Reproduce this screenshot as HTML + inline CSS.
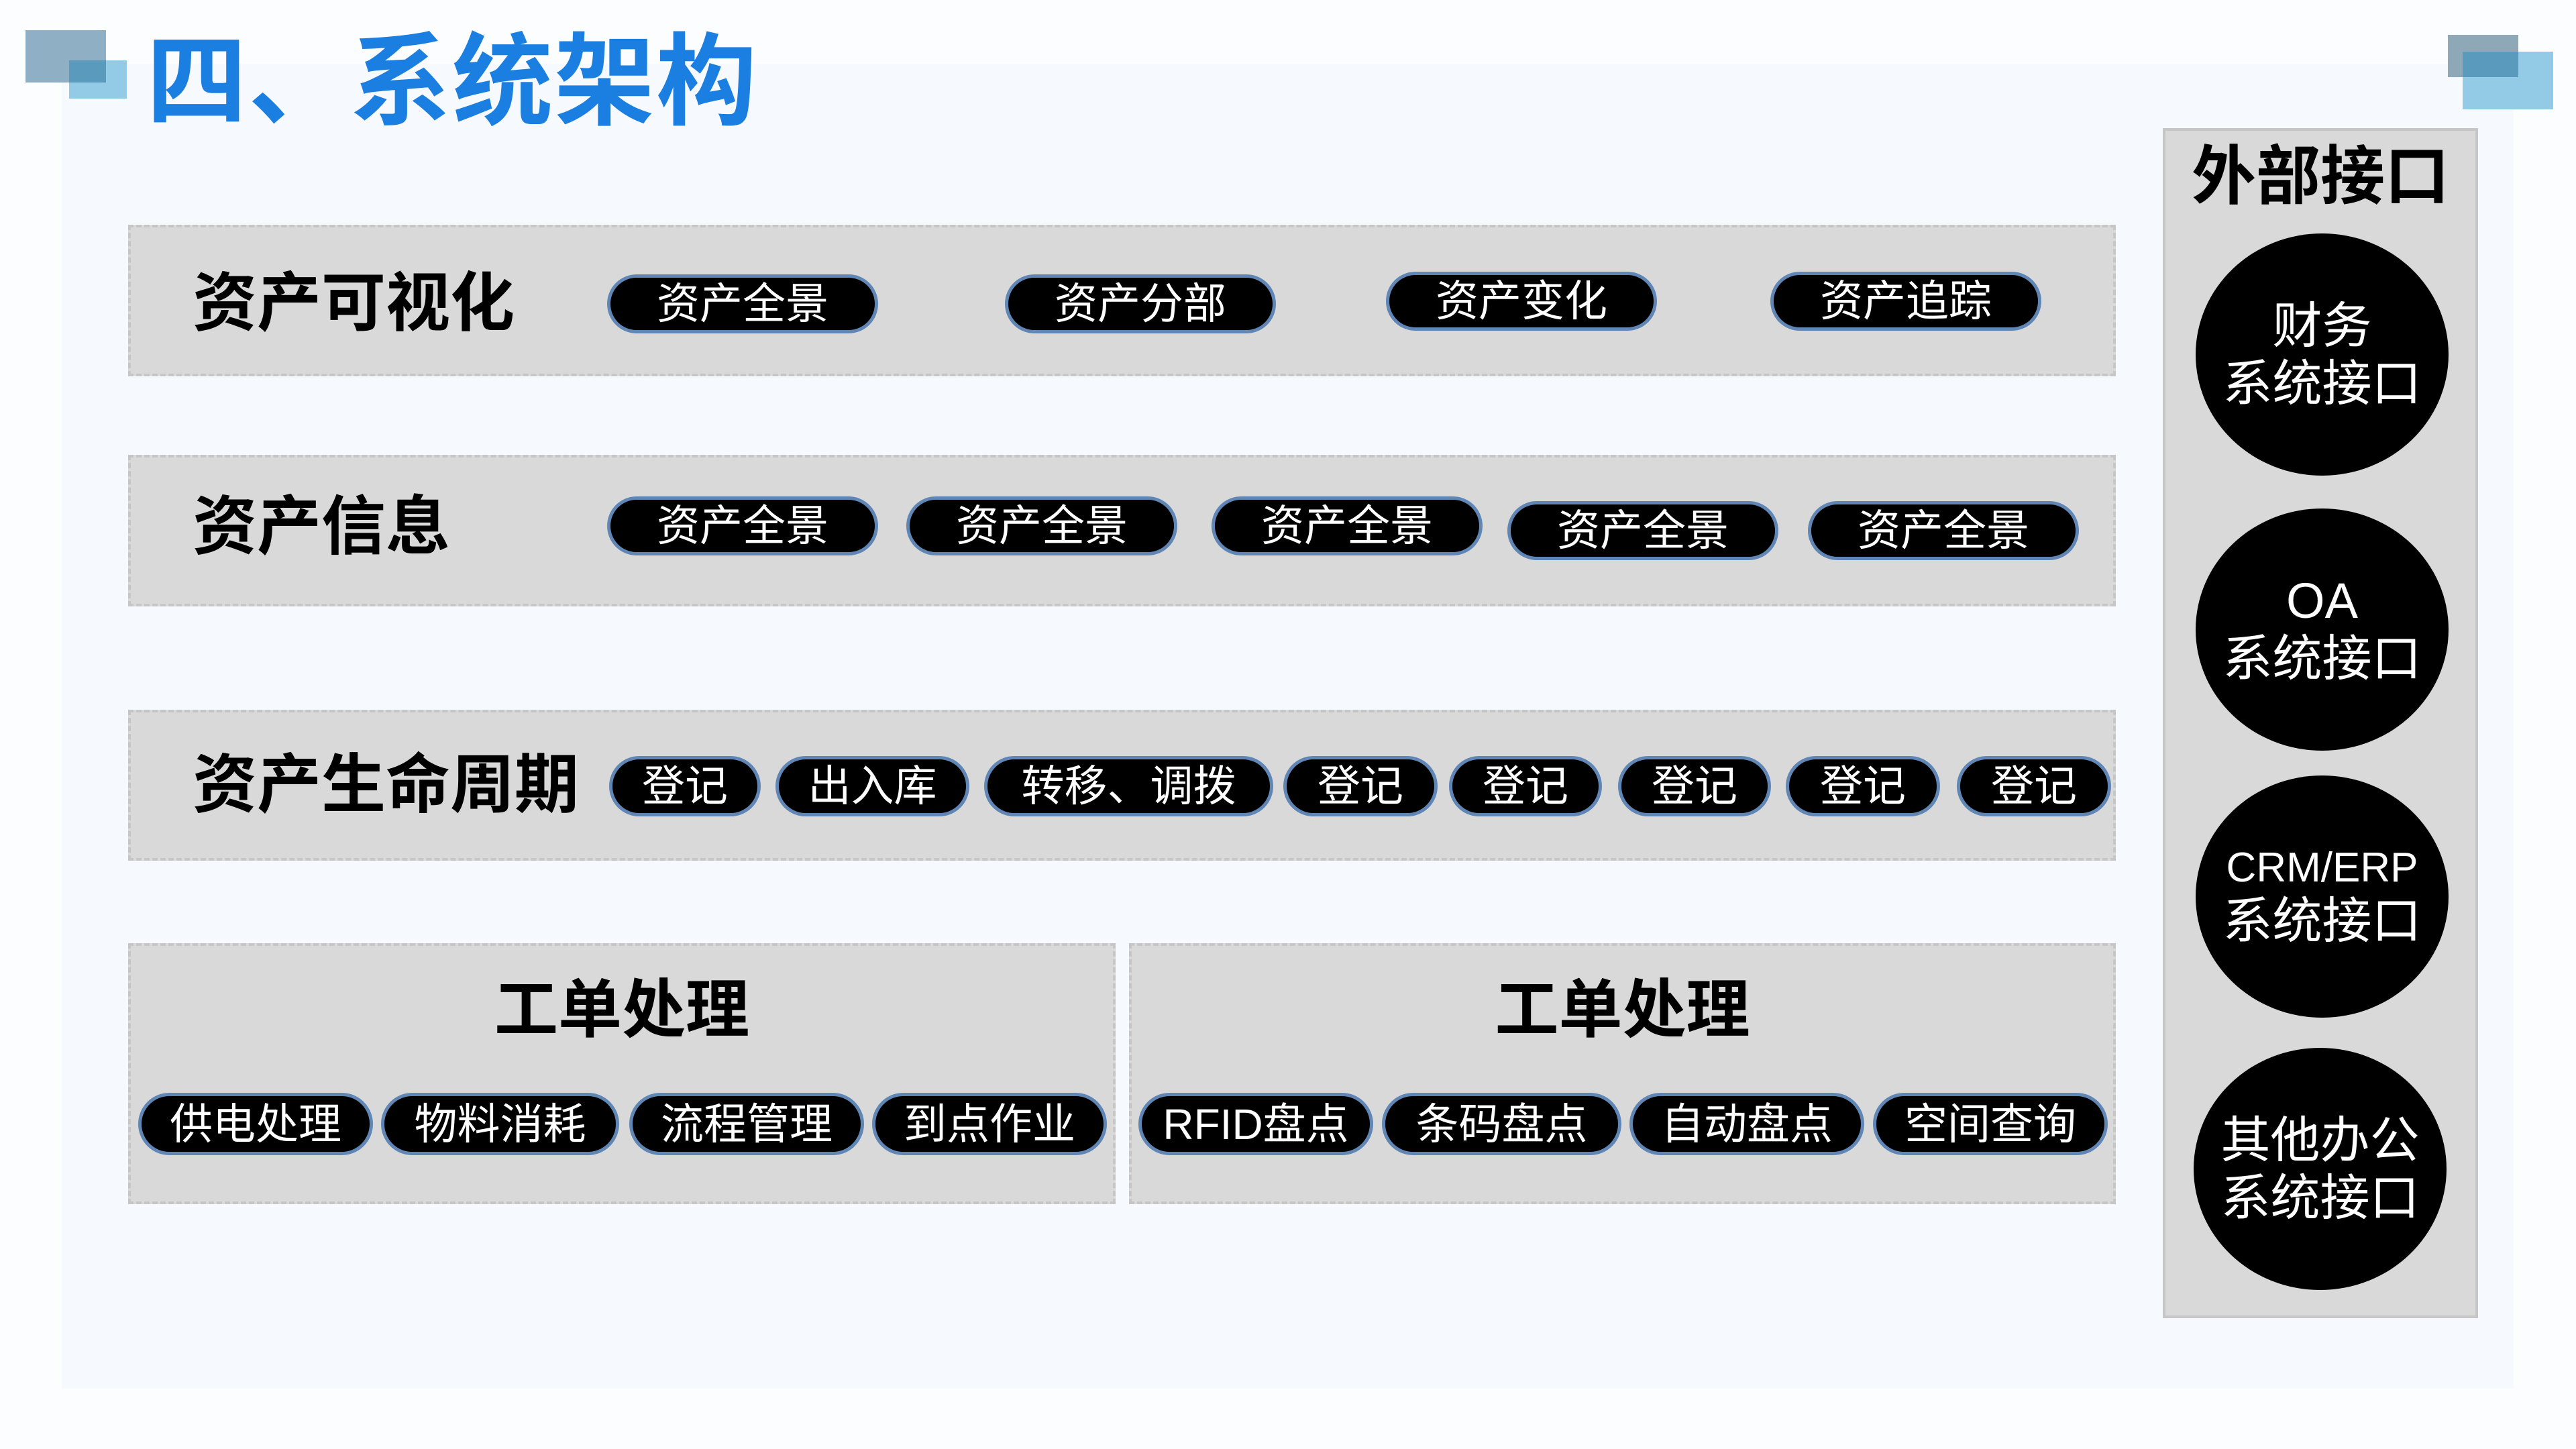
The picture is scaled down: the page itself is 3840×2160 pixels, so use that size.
<!DOCTYPE html>
<html><head><meta charset="utf-8"><style>
*{margin:0;padding:0;box-sizing:border-box}
body{width:3840px;height:2160px;background:#fcfdfe;position:relative;overflow:hidden;font-family:"Liberation Sans","Noto Sans CJK SC",sans-serif}
.a{position:absolute}
.panel{left:92px;top:95px;width:3655px;height:1975px;background:#f6f9fe}
.box{background:#d9d9d9;border:4px dashed #c6c6c6}
.lbl{position:absolute;font-weight:bold;font-size:96px;color:#000;line-height:1;white-space:nowrap}
.pill{position:absolute;background:#000;border:5px solid #5f86b5;border-radius:60px;color:#fff;font-size:64px;display:flex;align-items:center;justify-content:center;white-space:nowrap;line-height:1}
.circ{position:absolute;width:377px;height:361px;border-radius:50%;background:#000;color:#fff;display:flex;flex-direction:column;align-items:center;justify-content:center;font-size:74px;line-height:1.15;text-align:center}
</style></head><body>
<div class="a panel"></div>
<div class="a" style="left:38px;top:45px;width:120px;height:78px;background:#8fb0c4"></div>
<div class="a" style="left:103px;top:90px;width:86px;height:57px;background:#93cbe6"></div>
<div class="a" style="left:103px;top:90px;width:55px;height:33px;background:#5a9abd"></div>
<div class="a" style="left:3649px;top:52px;width:105px;height:63px;background:#8fa8b8"></div>
<div class="a" style="left:3671px;top:77px;width:135px;height:86px;background:#93cbe6"></div>
<div class="a" style="left:3671px;top:77px;width:83px;height:38px;background:#5a9abd"></div>
<div class="a" style="left:218px;top:40px;font-size:150px;font-weight:bold;color:#1a7fe0;line-height:1.1;white-space:nowrap;letter-spacing:2px">四、系统架构</div>

<div class="a box" style="left:191px;top:335px;width:2963px;height:226px"></div>
<div class="lbl" style="left:287px;top:405px">资产可视化</div>
<div class="pill" style="left:905px;top:409px;width:404px;height:88px">资产全景</div>
<div class="pill" style="left:1498px;top:409px;width:404px;height:88px">资产分部</div>
<div class="pill" style="left:2066px;top:405px;width:404px;height:88px">资产变化</div>
<div class="pill" style="left:2639px;top:405px;width:404px;height:88px">资产追踪</div>

<div class="a box" style="left:191px;top:678px;width:2963px;height:226px"></div>
<div class="lbl" style="left:287px;top:738px">资产信息</div>
<div class="pill" style="left:905px;top:740px;width:404px;height:88px">资产全景</div>
<div class="pill" style="left:1351px;top:740px;width:404px;height:88px">资产全景</div>
<div class="pill" style="left:1806px;top:740px;width:404px;height:88px">资产全景</div>
<div class="pill" style="left:2247px;top:747px;width:404px;height:88px">资产全景</div>
<div class="pill" style="left:2695px;top:747px;width:404px;height:88px">资产全景</div>

<div class="a box" style="left:191px;top:1058px;width:2963px;height:225px"></div>
<div class="lbl" style="left:287px;top:1123px">资产生命周期</div>
<div class="pill" style="left:908px;top:1127px;width:226px;height:90px">登记</div>
<div class="pill" style="left:1156px;top:1127px;width:289px;height:90px">出入库</div>
<div class="pill" style="left:1467px;top:1127px;width:431px;height:90px">转移、调拨</div>
<div class="pill" style="left:1913px;top:1127px;width:230px;height:90px">登记</div>
<div class="pill" style="left:2160px;top:1127px;width:228px;height:90px">登记</div>
<div class="pill" style="left:2412px;top:1127px;width:228px;height:90px">登记</div>
<div class="pill" style="left:2662px;top:1127px;width:230px;height:90px">登记</div>
<div class="pill" style="left:2917px;top:1127px;width:230px;height:90px">登记</div>

<div class="a box" style="left:191px;top:1406px;width:1472px;height:389px"></div>
<div class="a box" style="left:1683px;top:1406px;width:1471px;height:389px"></div>
<div class="lbl" style="left:191px;width:1472px;text-align:center;top:1459px;font-size:95px">工单处理</div>
<div class="lbl" style="left:1683px;width:1471px;text-align:center;top:1459px;font-size:95px">工单处理</div>
<div class="pill" style="left:206px;top:1629px;width:350px;height:93px">供电处理</div>
<div class="pill" style="left:568px;top:1629px;width:355px;height:93px">物料消耗</div>
<div class="pill" style="left:938px;top:1629px;width:350px;height:93px">流程管理</div>
<div class="pill" style="left:1300px;top:1629px;width:350px;height:93px">到点作业</div>
<div class="pill" style="left:1697px;top:1629px;width:350px;height:93px">RFID盘点</div>
<div class="pill" style="left:2060px;top:1629px;width:357px;height:93px">条码盘点</div>
<div class="pill" style="left:2429px;top:1629px;width:350px;height:93px">自动盘点</div>
<div class="pill" style="left:2792px;top:1629px;width:350px;height:93px">空间查询</div>

<div class="a" style="left:3224px;top:191px;width:470px;height:1774px;background:#d9d9d9;border:4px solid #c6c6c6"></div>
<div class="lbl" style="left:3224px;width:470px;text-align:center;top:216px;font-size:96px">外部接口</div>
<div class="circ" style="left:3273px;top:348px"><span>财务</span><span>系统接口</span></div>
<div class="circ" style="left:3273px;top:758px"><span>OA</span><span>系统接口</span></div>
<div class="circ" style="left:3273px;top:1156px"><span style="font-size:62px">CRM/ERP</span><span>系统接口</span></div>
<div class="circ" style="left:3270px;top:1562px"><span>其他办公</span><span>系统接口</span></div>
</body></html>
